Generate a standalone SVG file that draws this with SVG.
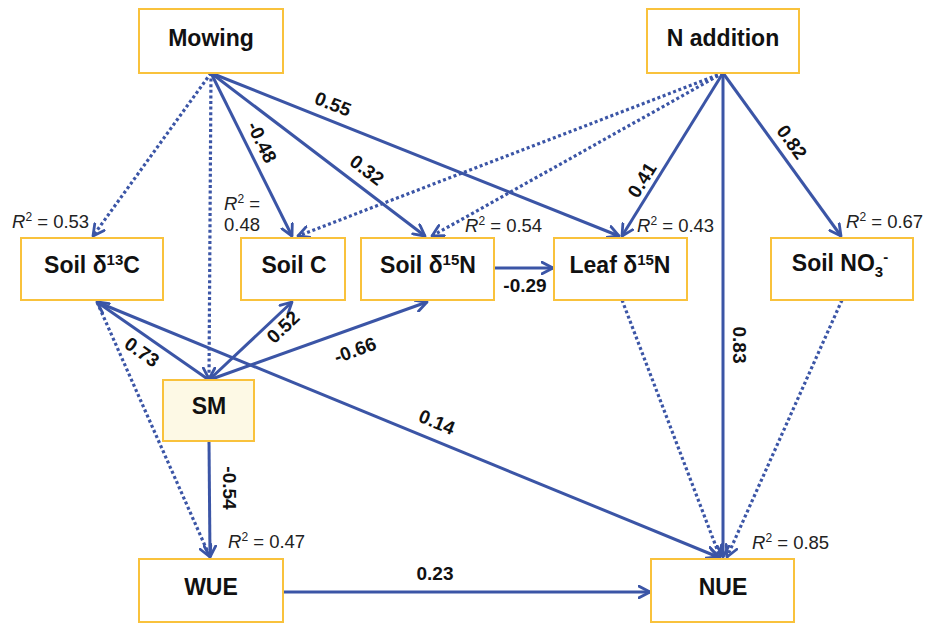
<svg xmlns="http://www.w3.org/2000/svg" width="928" height="623" viewBox="0 0 928 623">
<style>
.box{fill:#fff;stroke:#f9c23c;stroke-width:2}
.sm{fill:#fdf9e5}
.nl{font-family:"Liberation Sans",Arial,sans-serif;font-weight:bold;font-size:23px;fill:#111;text-anchor:middle}
.el{font-family:"Liberation Sans",Arial,sans-serif;font-weight:bold;font-size:19px;fill:#111;text-anchor:middle}
.r2{font-family:"Liberation Sans",Arial,sans-serif;font-size:18.5px;fill:#222}
.s{fill:none;stroke:#3b55a6;stroke-width:3;marker-end:url(#ah)}
.d{fill:none;stroke:#3b55a6;stroke-width:3.2;stroke-dasharray:3 2.6;marker-end:url(#ah)}
</style>
<defs>
<marker id="ah" viewBox="0 0 12 12" refX="10.5" refY="6" markerWidth="14" markerHeight="14" markerUnits="userSpaceOnUse" orient="auto">
<path d="M1,1 L10.5,6 L1,11" fill="none" stroke="#3b55a6" stroke-width="2.4" stroke-linecap="round" stroke-linejoin="round" stroke-dasharray="none"/>
</marker>
</defs>
<rect width="928" height="623" fill="#fff"/>
<g id="connectors">
<line class="d" x1="211" y1="73" x2="93" y2="236"/>
<line class="d" x1="211" y1="73" x2="209" y2="379"/>
<line class="s" x1="211" y1="73" x2="292" y2="236"/>
<line class="s" x1="211" y1="73" x2="425" y2="236"/>
<line class="s" x1="211" y1="73" x2="619" y2="236"/>
<line class="d" x1="723" y1="73" x2="298" y2="236"/>
<line class="d" x1="723" y1="73" x2="432" y2="236"/>
<line class="s" x1="723" y1="73" x2="622" y2="236"/>
<line class="s" x1="723" y1="73" x2="723" y2="557"/>
<line class="s" x1="723" y1="73" x2="841" y2="236"/>
<line class="s" x1="494" y1="268" x2="553" y2="268"/>
<line class="s" x1="209" y1="380" x2="292" y2="302"/>
<line class="s" x1="209" y1="380" x2="427" y2="302"/>
<line class="s" x1="209" y1="380" x2="97" y2="302"/>
<line class="s" x1="97" y1="302" x2="718" y2="557"/>
<line class="d" x1="97" y1="302" x2="210" y2="557"/>
<line class="s" x1="209" y1="441" x2="210" y2="557"/>
<line class="s" x1="283" y1="592" x2="650" y2="592"/>
<line class="d" x1="622" y1="300" x2="720" y2="557"/>
<line class="d" x1="842" y1="300" x2="727" y2="557"/>
</g>
<g id="edge-labels">
<text class="el" transform="translate(333,104) rotate(21.8)" dy="0.35em">0.55</text>
<text class="el" transform="translate(262,142) rotate(63.7)" dy="0.35em">-0.48</text>
<text class="el" transform="translate(367,170) rotate(37.5)" dy="0.35em">0.32</text>
<text class="el" transform="translate(642,180) rotate(-58)" dy="0.35em">0.41</text>
<text class="el" transform="translate(792,142) rotate(54)" dy="0.35em">0.82</text>
<text class="el" transform="translate(740,345) rotate(90)" dy="0.35em">0.83</text>
<text class="el" transform="translate(283,327) rotate(-43.6)" dy="0.35em">0.52</text>
<text class="el" transform="translate(355,350) rotate(-20)" dy="0.35em">-0.66</text>
<text class="el" transform="translate(142,352) rotate(35)" dy="0.35em">0.73</text>
<text class="el" transform="translate(437,422) rotate(22.4)" dy="0.35em">0.14</text>
<text class="el" transform="translate(230,488) rotate(90)" dy="0.35em">-0.54</text>
<text class="el" x="435" y="580">0.23</text>
<text class="el" x="525" y="292">-0.29</text>
</g>
<g id="mowing">
<rect class="box" x="139" y="9" width="144" height="64"/>
<text class="nl" x="211" y="46">Mowing</text>
</g>
<g id="n-addition">
<rect class="box" x="647" y="9" width="152" height="64"/>
<text class="nl" x="723" y="46">N addition</text>
</g>
<g id="soil-d13c">
<rect class="box" x="21" y="238" width="142" height="62"/>
<text class="nl" x="92" y="273">Soil δ<tspan font-size="15" dy="-8">13</tspan><tspan dy="8">C</tspan></text>
<text class="r2" x="12" y="228"><tspan font-style="italic">R</tspan><tspan font-size="12" dy="-7">2</tspan><tspan dy="7"> = 0.53</tspan></text>
</g>
<g id="soil-c">
<rect class="box" x="241" y="238" width="104" height="62"/>
<text class="nl" x="294" y="273">Soil C</text>
<text class="r2" x="224" y="210"><tspan font-style="italic">R</tspan><tspan font-size="12" dy="-7">2</tspan><tspan dy="7"> =</tspan></text>
<text class="r2" x="224" y="231">0.48</text>
</g>
<g id="soil-d15n">
<rect class="box" x="361" y="238" width="133" height="62"/>
<text class="nl" x="428" y="273">Soil δ<tspan font-size="15" dy="-8">15</tspan><tspan dy="8">N</tspan></text>
<text class="r2" x="465" y="232"><tspan font-style="italic">R</tspan><tspan font-size="12" dy="-7">2</tspan><tspan dy="7"> = 0.54</tspan></text>
</g>
<g id="leaf-d15n">
<rect class="box" x="554" y="238" width="133" height="62"/>
<text class="nl" x="620" y="273">Leaf δ<tspan font-size="15" dy="-8">15</tspan><tspan dy="8">N</tspan></text>
<text class="r2" x="637" y="232"><tspan font-style="italic">R</tspan><tspan font-size="12" dy="-7">2</tspan><tspan dy="7"> = 0.43</tspan></text>
</g>
<g id="soil-no3">
<rect class="box" x="771" y="238" width="142" height="62"/>
<text class="nl" x="840" y="271">Soil NO<tspan font-size="15" dy="6">3</tspan><tspan font-size="15" dy="-15">-</tspan></text>
<text class="r2" x="846" y="228"><tspan font-style="italic">R</tspan><tspan font-size="12" dy="-7">2</tspan><tspan dy="7"> = 0.67</tspan></text>
</g>
<g id="sm">
<rect class="box sm" x="163" y="380" width="91" height="61"/>
<text class="nl" x="209" y="414">SM</text>
</g>
<g id="wue">
<rect class="box" x="139" y="559" width="144" height="63"/>
<text class="nl" x="211" y="595">WUE</text>
<text class="r2" x="228" y="548"><tspan font-style="italic">R</tspan><tspan font-size="12" dy="-7">2</tspan><tspan dy="7"> = 0.47</tspan></text>
</g>
<g id="nue">
<rect class="box" x="651" y="559" width="143" height="63"/>
<text class="nl" x="723" y="595">NUE</text>
<text class="r2" x="752" y="549"><tspan font-style="italic">R</tspan><tspan font-size="12" dy="-7">2</tspan><tspan dy="7"> = 0.85</tspan></text>
</g>
</svg>
